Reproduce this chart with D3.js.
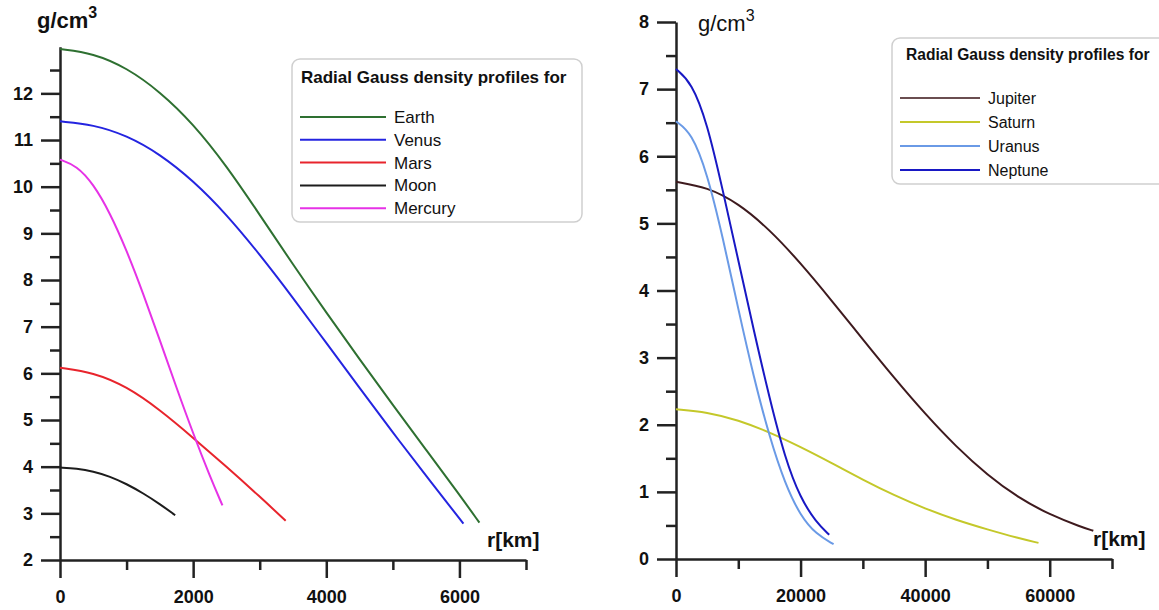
<!DOCTYPE html>
<html>
<head>
<meta charset="utf-8">
<script src="https://cdn.jsdelivr.net/npm/d3@7"></script>
<style>
	body { margin: 0; background: #fff; }
	text { font-family: "Liberation Sans", Arial, sans-serif; }
</style>
</head>
<body>
<svg id="chart" width="1159" height="610"></svg>
<script>
// radius in km, density in g/cm3

// terrestrial bodies (left panel)
var earthR = [0, 500, 1000, 1500, 2000, 2500, 3000, 3500, 4000, 4500, 5000, 5500, 6000, 6300]
var earthRho = [12.95, 12.86, 12.55, 12.04, 11.35, 10.45, 9.4, 8.33, 7.3, 6.3, 5.32, 4.36, 3.4, 2.8]
var venusR = [0, 500, 1000, 1500, 2000, 2500, 3000, 3500, 4000, 4500, 5000, 5500, 6060]
var venusRho = [11.4, 11.33, 11.1, 10.7, 10.13, 9.41, 8.55, 7.62, 6.65, 5.69, 4.73, 3.8, 2.78]
var marsR = [0, 500, 1000, 1500, 2000, 2500, 3000, 3390]
var marsRho = [6.12, 6.02, 5.72, 5.22, 4.62, 4.0, 3.36, 2.84]
var moonR = [0, 250, 500, 750, 1000, 1250, 1500, 1730]
var moonRho = [3.98, 3.96, 3.9, 3.79, 3.63, 3.43, 3.2, 2.96]
var mercuryR = [0, 250, 500, 750, 1000, 1250, 1500, 1750, 2000, 2250, 2440]
var mercuryRho = [10.58, 10.45, 10.06, 9.44, 8.64, 7.71, 6.71, 5.69, 4.71, 3.8, 3.17]

// giant planets (right panel)
var jupiterR = [0, 5000, 10000, 15000, 20000, 25000, 30000, 35000, 40000, 45000, 50000, 55000, 60000, 65000, 67000]
var jupiterRho = [5.62, 5.54, 5.3, 4.91, 4.41, 3.85, 3.27, 2.7, 2.16, 1.67, 1.25, 0.91, 0.66, 0.48, 0.42]
var saturnR = [0, 5000, 10000, 15000, 20000, 25000, 30000, 35000, 40000, 45000, 50000, 55000, 58200]
var saturnRho = [2.23, 2.19, 2.07, 1.89, 1.67, 1.43, 1.18, 0.95, 0.75, 0.58, 0.44, 0.31, 0.24]
var uranusR = [0, 2500, 5000, 7500, 10000, 12500, 15000, 17500, 20000, 22500, 25300]
var uranusRho = [6.52, 6.35, 5.75, 4.8, 3.72, 2.7, 1.82, 1.12, 0.64, 0.37, 0.22]
var neptuneR = [0, 2500, 5000, 7500, 10000, 12500, 15000, 17500, 20000, 22500, 24600]
var neptuneRho = [7.3, 7.1, 6.5, 5.5, 4.45, 3.4, 2.4, 1.5, 0.9, 0.55, 0.36]

var innerNames = ["Earth", "Venus", "Mars", "Moon", "Mercury"]
var outerNames = ["Jupiter", "Saturn", "Uranus", "Neptune"]

// tick values
var leftYMajor = [2, 3, 4, 5, 6, 7, 8, 9, 10, 11, 12]
var leftYMinor = [2.5, 3.5, 4.5, 5.5, 6.5, 7.5, 8.5, 9.5, 10.5, 11.5, 12.5]
var leftXMajor = [0, 2000, 4000, 6000]
var leftXMinor = [1000, 3000, 5000, 7000]
var rightYMajor = [0, 1, 2, 3, 4, 5, 6, 7, 8]
var rightYMinor = [0.5, 1.5, 2.5, 3.5, 4.5, 5.5, 6.5, 7.5]
var rightXMajor = [0, 20000, 40000, 60000]
var rightXMinor = [10000, 30000, 50000, 70000]

var legendTitle = "Radial Gauss density profiles for"

function toPoints(r, rho) {
	return r.map(function(d, i) { return {r: d, rho: rho[i]} })
}

var svg = d3.select("#chart")
var axisColor = "#222"

function drawPanel(cfg) {
	var g = svg.append("g")

	var x = d3.scaleLinear().domain(cfg.xDomain).range(cfg.xRange)
	var y = d3.scaleLinear().domain(cfg.yDomain).range(cfg.yRange)

	// minor ticks first, no labels
	g.append("g")
		.attr("transform", "translate(" + cfg.xRange[0] + ",0)")
		.call(d3.axisLeft(y).tickValues(cfg.yMinor).tickSize(10).tickFormat(""))
		.call(function(a) { a.select(".domain").remove() })
	g.append("g")
		.attr("transform", "translate(0," + cfg.yRange[0] + ")")
		.call(d3.axisBottom(x).tickValues(cfg.xMinor).tickSize(10).tickFormat(""))
		.call(function(a) { a.select(".domain").remove() })

	g.append("g")
		.attr("transform", "translate(" + cfg.xRange[0] + ",0)")
		.call(d3.axisLeft(y).tickValues(cfg.yMajor).tickSize(19).tickSizeOuter(0).tickPadding(8).tickFormat(d3.format("d")))
	g.append("g")
		.attr("transform", "translate(0," + cfg.yRange[0] + ")")
		.call(d3.axisBottom(x).tickValues(cfg.xMajor).tickSize(18).tickSizeOuter(0).tickPadding(12).tickFormat(d3.format("d")))

	g.selectAll(".tick line").attr("stroke", axisColor).attr("stroke-width", 2.5)
	g.selectAll(".domain").attr("stroke", axisColor).attr("stroke-width", 2.5)
	g.selectAll(".tick text")
		.attr("fill", "#111")
		.style("font-size", "18px")
		.style("font-weight", "bold")
		.style("font-family", "'Liberation Sans', Arial, sans-serif")

	var line = d3.line()
		.x(function(d) { return x(d.r) })
		.y(function(d) { return y(d.rho) })
		.curve(d3.curveBasis)

	g.selectAll("path.curve")
		.data(cfg.series)
		.enter()
		.append("path")
		.attr("class", "curve")
		.attr("d", function(d) { return line(d.points) })
		.attr("fill", "none")
		.attr("stroke", function(d) { return d.color })
		.attr("stroke-width", 2)

	// unit labels
	var unit = g.append("text")
		.attr("x", cfg.unitPos[0])
		.attr("y", cfg.unitPos[1])
		.attr("fill", "#111")
		.style("font-size", "22px")
		.style("font-weight", cfg.unitWeight)
	unit.append("tspan").text("g/cm")
	unit.append("tspan").attr("dy", -10).style("font-size", "16px").text("3")

	g.append("text")
		.attr("x", cfg.rPos[0])
		.attr("y", cfg.rPos[1])
		.attr("fill", "#111")
		.style("font-size", "21px")
		.style("font-weight", "bold")
		.text("r[km]")

	// legend
	var lg = cfg.legend
	var leg = g.append("g").attr("transform", "translate(" + lg.x + "," + lg.y + ")")
	leg.append("rect")
		.attr("width", lg.w)
		.attr("height", lg.h)
		.attr("rx", 8)
		.attr("fill", "#fff")
		.attr("stroke", "#cfcfcf")
		.attr("stroke-width", 1.5)
	leg.append("text")
		.attr("x", lg.titleX)
		.attr("y", lg.titleY)
		.attr("fill", "#111")
		.style("font-size", lg.titleSize + "px")
		.style("font-weight", "bold")
		.text(legendTitle)
	var items = leg.selectAll("g.item")
		.data(cfg.series)
		.enter()
		.append("g")
		.attr("class", "item")
		.attr("transform", function(d, i) { return "translate(0," + (lg.firstY + i * lg.step) + ")" })
	items.append("line")
		.attr("x1", lg.lineX[0])
		.attr("x2", lg.lineX[1])
		.attr("stroke", function(d) { return d.legendColor || d.color })
		.attr("stroke-width", 2)
	items.append("text")
		.attr("x", lg.textX)
		.attr("dy", "0.35em")
		.attr("fill", "#111")
		.style("font-size", lg.itemSize + "px")
		.text(function(d) { return d.name })
}

drawPanel({
	xDomain: [0, 7000], xRange: [60, 526],
	yDomain: [2, 13], yRange: [560, 46.7],
	xMajor: leftXMajor, xMinor: leftXMinor,
	yMajor: leftYMajor, yMinor: leftYMinor,
	series: [
		{name: innerNames[0], color: "#2e7031", points: toPoints(earthR, earthRho)},
		{name: innerNames[1], color: "#2424e0", points: toPoints(venusR, venusRho)},
		{name: innerNames[2], color: "#e8242c", points: toPoints(marsR, marsRho)},
		{name: innerNames[3], color: "#1c1c1c", points: toPoints(moonR, moonRho)},
		{name: innerNames[4], color: "#e632e6", points: toPoints(mercuryR, mercuryRho)}
	],
	unitPos: [37, 28], unitWeight: "bold",
	rPos: [487, 547],
	legend: {x: 292, y: 59, w: 290, h: 163, titleX: 9, titleY: 24, titleSize: 17,
		firstY: 58, step: 22.8, lineX: [8, 94], textX: 102, itemSize: 17}
})

drawPanel({
	xDomain: [0, 70000], xRange: [676, 1112],
	yDomain: [0, 8], yRange: [559, 22],
	xMajor: rightXMajor, xMinor: rightXMinor,
	yMajor: rightYMajor, yMinor: rightYMinor,
	series: [
		{name: outerNames[0], color: "#3e1a1e", legendColor: "#6a4e50", points: toPoints(jupiterR, jupiterRho)},
		{name: outerNames[1], color: "#c4c82a", points: toPoints(saturnR, saturnRho)},
		{name: outerNames[2], color: "#6a9ae6", points: toPoints(uranusR, uranusRho)},
		{name: outerNames[3], color: "#1818c4", points: toPoints(neptuneR, neptuneRho)}
	],
	unitPos: [698, 31], unitWeight: "normal",
	rPos: [1093, 546],
	legend: {x: 892, y: 38, w: 290, h: 146, titleX: 14, titleY: 22, titleSize: 15.6,
		firstY: 60, step: 24, lineX: [8, 88], textX: 96, itemSize: 16}
})
</script>
</body>
</html>
